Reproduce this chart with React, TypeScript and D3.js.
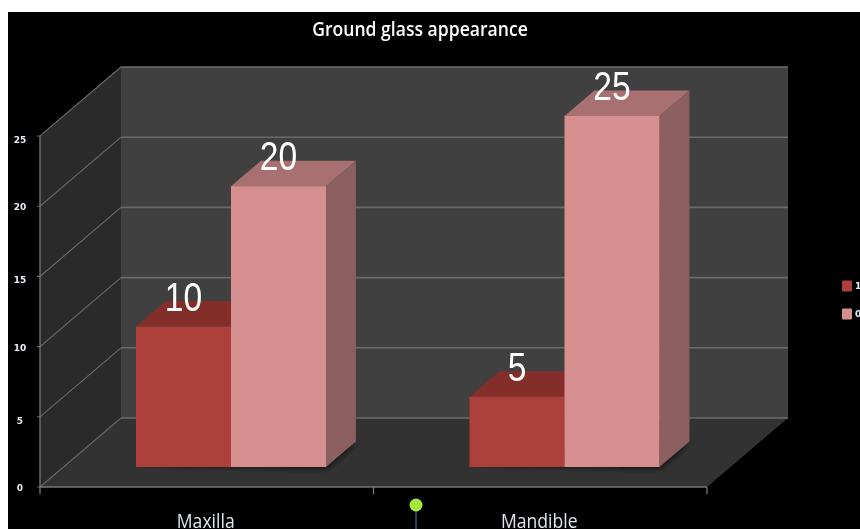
import React from 'react'
import * as d3 from 'd3'

const title = 'Ground glass appearance'
const categories = ['Maxilla', 'Mandible']
const seriesNames = ['1', '0']
const seriesA = [10, 5]
const seriesB = [20, 25]
const yTicks = [0, 5, 10, 15, 20, 25]

const width = 860
const height = 529
const margin = { left: 40, right: 707, top: 136, bottom: 487 }
// 3d offset of the back wall, and the part of it the bars sit at
const depth = { dx: 81, dy: -69 }
const barFront = 0.29
const barDepth = 0.37
const barColors = [
  { front: '#ad3f3b', top: '#842e2c', side: '#7a3432' },
  { front: '#d68f8f', top: '#a87070', side: '#8b5f5f' },
]

const x0 = d3.scaleBand<string>().domain(categories).range([margin.left, margin.right])
const x1 = d3.scaleBand<string>().domain(seriesNames).range([72.5, 72.5 + 190])
const y = d3.scaleLinear().domain([0, 25]).range([margin.bottom, margin.top])

const poly = d3.line<number[]>().curve(d3.curveLinearClosed)

const shift = (p: number[], t: number) => [p[0] + depth.dx * t, p[1] + depth.dy * t]

const App = () => {
  const left = margin.left
  const right = margin.right
  const y0 = y(0)
  const y25 = y(25)
  const barW = x1.bandwidth()
  const ox = depth.dx * barFront
  const oy = depth.dy * barFront

  const bars = categories.flatMap((c, i) =>
    [seriesA[i], seriesB[i]].map((v, s) => {
      const xa = (x0(c) || 0) + (x1(seriesNames[s]) || 0) + ox
      return { c, v, s, xa, xb: xa + barW, yTop: y(v) + oy, yBase: y0 + oy }
    })
  )

  return (
    <svg
      width={width}
      height={height}
      style={{ position: 'absolute', left: 0, top: 0, background: '#fff' }}
    >
      <defs>
        <filter id="shadow" x="-30%" y="-30%" width="160%" height="160%">
          <feGaussianBlur stdDeviation="4" />
        </filter>
        <filter id="soft" filterUnits="userSpaceOnUse" x={8} y={12} width={width} height={height}>
          <feGaussianBlur stdDeviation="0.35" />
        </filter>
      </defs>
      <rect x={8} y={12} width={width - 8} height={height - 12} fill="#000" />

      <g filter="url(#soft)">
        <text
          transform="translate(420,36) scale(0.925,1)"
          textAnchor="middle"
          fill="#fff"
          fontFamily="'Open Sans', sans-serif"
          fontWeight={600}
          fontSize={19}
        >
          {title}
        </text>

        {/* walls and floor */}
        <rect x={left + depth.dx} y={y25 + depth.dy} width={right - left} height={y0 - y25} fill="#404040" />
        <path
          d={poly([[left, y25], shift([left, y25], 1), shift([left, y0], 1), [left, y0]]) || ''}
          fill="#2b2b2b"
        />
        <path
          d={poly([[left, y0], shift([left, y0], 1), shift([right, y0], 1), [right, y0]]) || ''}
          fill="#333333"
        />

        {/* grid */}
        {yTicks.map((t) => (
          <g key={t} stroke="#6a6a6a" fill="none">
            <path
              strokeWidth={1.1}
              d={
                d3.line()([
                  [left - 3, y(t)],
                  [left, y(t)],
                  shift([left, y(t)], 1),
                ]) || ''
              }
            />
            <path
              strokeWidth={1.6}
              d={d3.line()([shift([left, y(t)], 1), shift([right, y(t)], 1)]) || ''}
            />
          </g>
        ))}
        <path d={`M${left},${y25}V${y0}H${right}`} stroke="#777" strokeWidth={1.3} fill="none" />
        <path
          d={[left, (left + right) / 2, right].map((t) => `M${t},${y0}v7`).join('')}
          stroke="#777"
          strokeWidth={1.3}
          fill="none"
        />

        {yTicks.map((t) => (
          <text
            key={t}
            x={20}
            y={y(t) + (t % 10 === 5 ? 7 : 4)}
            textAnchor="middle"
            fill="#e8eef5"
            fontFamily="'DejaVu Sans', sans-serif"
            fontWeight={700}
            fontSize={9}
          >
            {t}
          </text>
        ))}

        {/* floor shadows */}
        {categories.map((c, i) => {
          const b = bars[i * 2]
          const e = bars[i * 2 + 1]
          return (
            <path
              key={c}
              filter="url(#shadow)"
              fill="#111"
              d={
                poly([
                  [b.xa - 6, b.yBase - 4],
                  [e.xb, e.yBase],
                  shift([e.xb, e.yBase], barDepth),
                  [shift([e.xb, e.yBase], barDepth)[0] + 14, shift([e.xb, e.yBase], barDepth)[1]],
                ]) || ''
              }
            />
          )
        })}

        {/* bars */}
        {bars.map((b) => {
          const col = barColors[b.s]
          return (
            <g key={b.c + b.s}>
              <path
                fill={col.top}
                d={
                  poly([
                    [b.xa, b.yTop],
                    [b.xb, b.yTop],
                    shift([b.xb, b.yTop], barDepth),
                    shift([b.xa, b.yTop], barDepth),
                  ]) || ''
                }
              />
              <path
                fill={col.side}
                d={
                  poly([
                    [b.xb, b.yTop],
                    shift([b.xb, b.yTop], barDepth),
                    shift([b.xb, b.yBase], barDepth),
                    [b.xb, b.yBase],
                  ]) || ''
                }
              />
              <rect x={b.xa} y={b.yTop} width={barW} height={b.yBase - b.yTop} fill={col.front} />
            </g>
          )
        })}
        {bars.map((b) => (
          <text
            key={b.c + b.s}
            transform={`translate(${b.xa + barW / 2},${b.yTop - 16}) scale(0.82,1)`}
            textAnchor="middle"
            fill="#fff"
            fontFamily="'Liberation Sans', sans-serif"
            fontSize={41}
          >
            {b.v}
          </text>
        ))}

        {categories.map((c) => (
          <text
            key={c}
            transform={`translate(${(x0(c) || 0) + x0.bandwidth() / 2 - 1},527.5) scale(0.88,1)`}
            textAnchor="middle"
            fill="#dde6ee"
            fontFamily="'Open Sans', sans-serif"
            fontSize={20}
          >
            {c}
          </text>
        ))}

        {/* legend */}
        {seriesNames.map((s, i) => (
          <g key={s}>
            <rect x={842} y={280.5 + i * 28} width={10} height={11} rx={1} fill={barColors[i].front} />
            <text
              x={855}
              y={289 + i * 28}
              fill="#e8eef5"
              fontFamily="'DejaVu Sans', sans-serif"
              fontWeight={700}
              fontSize={9}
            >
              {s}
            </text>
          </g>
        ))}

        {/* marker pin */}
        <line x1={416} x2={416} y1={510} y2={height} stroke="#3f6f9c" strokeWidth={1.2} />
        <circle cx={416} cy={505} r={6.5} fill="#a4e83c" />
      </g>
    </svg>
  )
}

export default App
